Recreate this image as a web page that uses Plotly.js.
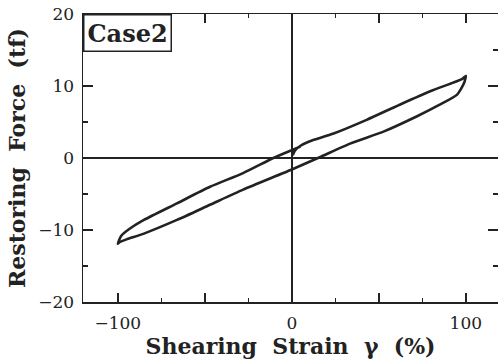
<!DOCTYPE html>
<html>
<head>
<meta charset="utf-8">
<script src="https://cdn.plot.ly/plotly-3.0.1.min.js"></script>
<style>html,body{margin:0;padding:0;background:#fff;}#chart{width:498px;height:361px;}</style>
</head>
<body>
<div id="chart"></div>
<script>
// Shearing strain gamma (%) and restoring force (tf), traced along the hysteresis loop
const strain = [0.5, 2, 5, 10, 24, 43, 62, 81, 92, 98, 100, 99, 95, 85, 72, 53, 33.5, 16, 0, -28, -47, -66, -85, -95, -99, -100, -98, -93, -85, -66, -47, -28, -10.6, 0, 5];
const force  = [0.4, 1.1, 1.7, 2.3, 3.4, 5.3, 7.4, 9.4, 10.4, 11.0, 11.4, 10.4, 8.8, 7.4, 5.8, 3.7, 2.0, 0.1, -1.6, -4.4, -6.5, -8.6, -10.5, -11.3, -11.7, -11.9, -10.8, -9.8, -8.6, -6.3, -4.0, -2.1, 0, 1.1, 1.6];
const xTickVals = [-100, -50, 0, 50, 100];
const xTickText = ['\u2212100', '', '0', '', '100'];
const yTickVals = [-20, -10, 0, 10, 20];
const yTickText = ['\u221220', '\u221210', '0', '10', '20'];
const caseLabel = 'Case2';
const xTitle = 'Shearing\u00a0 Strain\u00a0 \u03b3\u00a0 (%)';
const yTitle = 'Restoring\u00a0 Force\u00a0 (tf)';

const serif = 'DejaVu Serif, serif';
const traces = [
  {x: strain, y: force, type: 'scatter', mode: 'lines',
   line: {color: '#222', width: 2.6, shape: 'spline', smoothing: 0.6}, hoverinfo: 'skip'},
  {x: [], y: [], yaxis: 'y2', type: 'scatter', mode: 'lines', hoverinfo: 'skip'}
];
const axisCommon = {
  showgrid: false, zeroline: true, zerolinecolor: '#222', zerolinewidth: 1.5,
  showline: true, linecolor: '#222', linewidth: 1.5,
  ticks: 'inside', ticklen: 10, tickwidth: 1.5, tickcolor: '#222',
  tickfont: {family: serif, size: 17, color: '#222'}
};
const layout = {
  width: 498, height: 361,
  margin: {l: 83, r: 0, t: 14, b: 59},
  paper_bgcolor: '#fff', plot_bgcolor: '#fff',
  showlegend: false,
  xaxis: Object.assign({}, axisCommon, {
    range: [-120, 118.5], tickmode: 'array', tickvals: xTickVals, ticktext: xTickText,
    ticklen: 9, mirror: 'ticks', ticklabelstandoff: 5,
    minor: {ticks: 'inside', dtick: 25, tick0: 0, ticklen: 4, tickwidth: 1.5, tickcolor: '#222', showgrid: false},
    title: {text: xTitle, font: {family: serif, size: 22, color: '#222', weight: 'bold'}, standoff: 6}
  }),
  yaxis: Object.assign({}, axisCommon, {
    range: [-20, 20], tickmode: 'array', tickvals: yTickVals, ticktext: yTickText,
    minor: {ticks: 'inside', dtick: 5, tick0: 0, ticklen: 5, tickwidth: 1.5, tickcolor: '#222', showgrid: false},
    ticklabelstandoff: 4,
    title: {text: yTitle, font: {family: serif, size: 22, color: '#222', weight: 'bold'}, standoff: 6}
  }),
  yaxis2: {
    overlaying: 'y', side: 'right', anchor: 'x', range: [-20, 20], showline: false, showgrid: false,
    zeroline: false, ticks: 'inside', ticklen: 10, tickwidth: 1.5, tickcolor: '#222',
    tickmode: 'array', tickvals: yTickVals, showticklabels: false,
    minor: {ticks: 'inside', dtick: 5, tick0: 0, ticklen: 5, tickwidth: 1.5, tickcolor: '#222', showgrid: false}
  },
  annotations: [{
    xref: 'paper', yref: 'paper', x: 0, y: 1, xanchor: 'left', yanchor: 'top',
    text: '<b>' + caseLabel + '</b>', showarrow: false,
    font: {family: serif, size: 24, color: '#222'},
    bordercolor: '#222', borderwidth: 1.5, borderpad: 3, bgcolor: '#fff'
  }]
};
Plotly.newPlot('chart', traces, layout, {displayModeBar: false, staticPlot: true});
</script>
</body>
</html>
